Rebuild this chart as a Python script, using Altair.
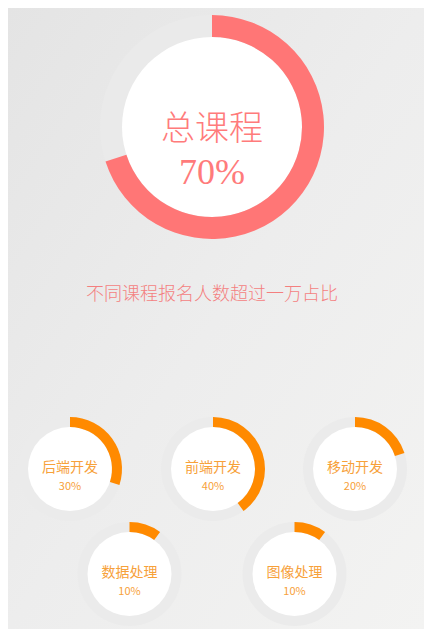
import math
import altair as alt
import pandas as pd

# ---- data ----
total_label = "总课程"
total_value = 70
subtitle = "不同课程报名人数超过一万占比"
categories = ["后端开发", "前端开发", "移动开发", "数据处理", "图像处理"]
values = [30, 40, 20, 10, 10]

W, H = 416, 621
theta_scale = alt.Scale(domain=[0, 100], range=[0, 2 * math.pi])


def donut(name, value, cx, cy, r_out, r_in, color, track, label_color,
          font_label, size_label, dy_label, font_pct, size_pct, dy_pct,
          weight=400):
    df = pd.DataFrame({"name": [name], "value": [value], "full": [100],
                       "zero": [0], "pct": [f"{value}%"]})
    base = alt.Chart(df)
    t0 = alt.Theta("zero:Q", scale=theta_scale, stack=None)
    trk = base.mark_arc(outerRadius=r_out, innerRadius=0, color=track).encode(
        x=alt.value(cx), y=alt.value(cy), theta=t0, theta2="full:Q")
    disk = base.mark_arc(outerRadius=r_in, innerRadius=0, color="#ffffff").encode(
        x=alt.value(cx), y=alt.value(cy), theta=t0, theta2="full:Q")
    arc = base.mark_arc(outerRadius=r_out, innerRadius=r_in, color=color).encode(
        x=alt.value(cx), y=alt.value(cy), theta=t0, theta2="value:Q")
    lab = base.mark_text(font=font_label, fontSize=size_label, color=label_color,
                         align="center", baseline="middle", fontWeight=weight).encode(
        x=alt.value(cx), y=alt.value(cy + dy_label), text="name:N")
    pct = base.mark_text(font=font_pct, fontSize=size_pct, color=label_color,
                         align="center", baseline="middle", fontWeight=weight).encode(
        x=alt.value(cx), y=alt.value(cy + dy_pct), text="pct:N")
    return [trk, disk, arc, lab, pct]


bg = alt.Chart(pd.DataFrame({"a": [0]})).mark_rect(
    color=alt.Gradient(gradient="linear", x1=0, y1=0, x2=1, y2=1,
                       stops=[alt.GradientStop(color="#e4e4e4", offset=0),
                              alt.GradientStop(color="#ededed", offset=0.5),
                              alt.GradientStop(color="#f3f3f2", offset=1)])
).encode(x=alt.value(0), x2=alt.value(W), y=alt.value(0), y2=alt.value(H))

layers = [bg]
serif = "'Liberation Serif', 'Noto Sans CJK SC'"
sans = "'Noto Sans CJK SC'"
layers += donut(total_label, total_value, 204, 119, 112, 90, "#ff7676", "#eaeaea",
                "#ff7b7b", serif, 34, 3, "Liberation Serif", 36, 46, weight=300)

sub = alt.Chart(pd.DataFrame({"t": [subtitle]})).mark_text(
    font=serif, fontSize=18, color="#f47f7f", align="center", baseline="middle",
    fontWeight=300).encode(x=alt.value(204), y=alt.value(287), text="t:N")
layers.append(sub)

centers = [(62, 461), (205, 461), (347, 461), (121.5, 566), (286.5, 566)]
for (cx, cy), c, v in zip(centers, categories, values):
    layers += donut(c, v, cx, cy, 52, 42, "#ff8a00", "#ebebeb", "#f7a13a",
                    sans, 14, -1, sans, 11, 18)

chart = alt.layer(*layers).properties(
    width=W, height=H, padding=0, autosize="none", background="#ececec"
).configure_view(stroke=None)

chart.save("out.html", embed_options={"renderer": "svg", "actions": False})
